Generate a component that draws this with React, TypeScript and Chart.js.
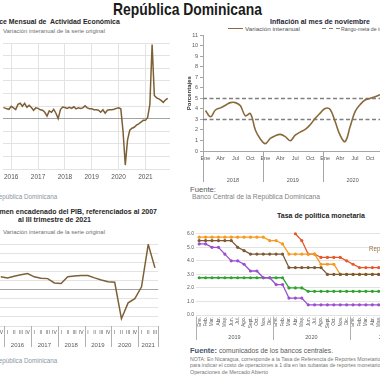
import React, { useEffect, useLayoutEffect, useRef } from 'react';
import { Chart, registerables } from 'chart.js';

Chart.register(...registerables);

const FONT = "'Liberation Sans', Arial, Helvetica, sans-serif";
Chart.defaults.font.family = FONT;

// ---------- Panel 1: Índice Mensual de Actividad Económica (var. interanual, %) ----------
const imaeFirstMonth = -4; // Sep 2015 (months counted from Jan 2016)
const imaeValues = [
  7.1, 6.8, 6.2, 5.9,
  7.8, 6.8, 5.7, 9.0, 9.7, 7.8, 9.7, 7.1, 8.4, 7.1, 5.3, 6.8,
  6.5, 5.6, 5.3, 4.0, 1.6, 4.9, 4.0, 5.9, 3.4, 0.0, 5.7, 7.3,
  7.0, 6.5, 7.1, 6.5, 7.5, 6.2, 6.8, 6.5, 6.8, 8.1, 6.8, 6.3,
  6.2, 5.6, 5.6, 5.3, 4.0, 5.6, 3.4, 5.3, 5.6, 5.6, 5.9, 6.5,
  6.8, 6.2, -8.0, -29.5, -13.7, -7.4, -6.1, -5.5, -4.2, -3.3, -2.3, -1.1,
  -1.1, 0.8, 9.0, 47.0, 14.7, 13.2, 12.5, 11.6, 10.3, 11.9, 12.8,
];
const imaeYearLabels = ['2016', '2017', '2018', '2019', '2020', '2021'];

// ---------- Panel 2: Inflación interanual (%) ----------
const monthNames = ['Ene', 'Feb', 'Mar', 'Abr', 'May', 'Jun', 'Jul', 'Ago', 'Sep', 'Oct', 'Nov', 'Dic'];
const inflYears = ['2018', '2019', '2020'];
const inflValues = [
  3.85, 3.25, 3.9, 4.1, 4.35, 4.6, 4.6, 4.3, 3.35, 3.55, 2.0, 1.15,
  0.7, 1.2, 1.45, 1.58, 1.36, 0.98, 1.5, 1.8, 2.05, 2.5, 3.1, 3.6,
  4.05, 3.95, 2.8, 1.5, 0.9, 2.3, 3.75, 4.4, 4.85, 5.0, 5.15, 5.35,
];
const targetUpper = 5;
const targetLower = 3;

// ---------- Panel 3: PIB trimestral (var. interanual, %) ----------
const pibYears = ['2015', '2016', '2017', '2018', '2019', '2020', '2021'];
const pibQuartersPerYear = [4, 4, 4, 4, 4, 4, 3];
const quarterNames = ['I', 'II', 'III', 'IV'];
const pibValues = [
  null, null, null, 7.0,
  6.4, 7.3, 8.1, 8.8,
  7.0, 6.2, 6.0, 3.6,
  3.3, 7.0, 7.5, 7.7,
  7.7, 6.4, 5.2, 4.3,
  4.0, -16.0, -7.3, -5.0,
  1.5, 24.8, 11.9,
];

// ---------- Panel 4: Tasa de política monetaria (%) ----------
const tpmYears = ['2019', '2020', '2021'];
const tpmMonthsPerYear = [12, 12, 11];
const tpmMonthNames = ['Ene.', 'Feb.', 'Mar.', 'Abr.', 'May.', 'Jun.', 'Jul.', 'Ago.', 'Sept.', 'Oct.', 'Nov.', 'Dic.'];
const tpmRepDominicana = [5.5, 5.5, 5.5, 5.5, 5.5, 5.5, 5.0, 4.75, 4.5, 4.5, 4.5, 4.5, 4.5, 4.5, 3.5, 3.5, 3.5, 3.5, 3.5, 3.5, 3.0, 3.0, 3.0, 3.0, 3.0, 3.0, 3.0, 3.0, 3.0];
const tpmHonduras = [5.75, 5.75, 5.75, 5.75, 5.75, 5.75, 5.75, 5.75, 5.75, 5.75, 5.75, 5.5, 5.5, 5.25, 4.5, 4.5, 4.5, 4.5, 4.5, 3.75, 3.75, 3.75, 3.0, 3.0, 3.0, 3.0, 3.0, 3.0, 3.0];
const tpmNicaragua = [null, null, null, null, null, null, null, null, null, null, null, null, null, null, null, 6.0, 5.5, 4.5, 4.5, 4.25, 4.25, 4.25, 4.25, 4.0, 3.75, 3.5, 3.5, 3.5, 3.5];
const tpmCostaRica = [5.25, 5.25, 5.0, 5.0, 4.5, 4.0, 4.0, 3.75, 3.25, 3.25, 2.75, 2.75, 2.25, 2.25, 1.25, 1.25, 1.25, 0.75, 0.75, 0.75, 0.75, 0.75, 0.75, 0.75, 0.75, 0.75, 0.75, 0.75, 0.75];
const tpmGuatemala = [2.75, 2.75, 2.75, 2.75, 2.75, 2.75, 2.75, 2.75, 2.75, 2.75, 2.75, 2.75, 2.75, 2.75, 2.0, 2.0, 2.0, 1.75, 1.75, 1.75, 1.75, 1.75, 1.75, 1.75, 1.75, 1.75, 1.75, 1.75, 1.75];

// ---------- helpers ----------
type Group = { label: string; count: number };
function groupAxis(id: string, groups: Group[], o: { lineTop: number; lineBottom: number; labelY: number; size: number; color: string; lineColor: string }) {
  return {
    id,
    afterDraw(chart: any) {
      const sc = chart.scales.x;
      const ctx = chart.ctx as CanvasRenderingContext2D;
      const base = chart.chartArea.bottom;
      const half = (sc.getPixelForValue(1) - sc.getPixelForValue(0)) / 2;
      ctx.save();
      ctx.strokeStyle = o.lineColor;
      ctx.lineWidth = 1;
      ctx.fillStyle = o.color;
      ctx.font = `${o.size}px ${FONT}`;
      ctx.textAlign = 'center';
      ctx.textBaseline = 'middle';
      const seg = (x: number) => {
        const xx = Math.round(x) + 0.5;
        ctx.beginPath();
        ctx.moveTo(xx, base + o.lineTop);
        ctx.lineTo(xx, base + o.lineBottom);
        ctx.stroke();
      };
      let idx = 0;
      groups.forEach((g, gi) => {
        const x0 = sc.getPixelForValue(idx) - half;
        const x1 = sc.getPixelForValue(idx + g.count - 1) + half;
        seg(x0);
        ctx.fillText(g.label, (x0 + x1) / 2, base + o.labelY);
        if (gi === groups.length - 1) seg(x1);
        idx += g.count;
      });
      ctx.restore();
    },
  };
}

type TP = { x: number; y: number; size: number; text: string; w?: number; sx?: number; bold?: boolean; color?: string; right?: boolean };
function T({ x, y, size, text, w, sx, bold, color = '#333', right }: TP) {
  const ref = useRef<HTMLDivElement>(null);
  useLayoutEffect(() => {
    const el = ref.current!;
    el.style.transform = 'none';
    const nat = el.getBoundingClientRect().width;
    const s = w ? w / nat : sx ?? 1;
    el.style.transform = `scaleX(${s})`;
    el.style.left = `${right ? x - nat * s : x}px`;
  }, [x, w, sx, right, text, size]);
  return (
    <div
      ref={ref}
      style={{
        position: 'absolute', left: x, top: y - 0.8465 * size, fontSize: size, lineHeight: `${size}px`,
        fontFamily: FONT, fontWeight: bold ? 700 : 400, color, whiteSpace: 'pre', transformOrigin: '0 0',
      }}
    >
      {text}
    </div>
  );
}

function ChartBox({ left, top, width, height, make }: { left: number; top: number; width: number; height: number; make: () => any }) {
  const ref = useRef<HTMLCanvasElement>(null);
  useEffect(() => {
    const chart = new Chart(ref.current!, make());
    return () => chart.destroy();
  }, []);
  return <canvas ref={ref} width={width} height={height} style={{ position: 'absolute', left, top, width, height }} />;
}

const base = { animation: false, responsive: false, devicePixelRatio: 1, plugins: { legend: { display: false }, tooltip: { enabled: false } } };

// ---------- chart configs ----------
function makeImae() {
  return {
    type: 'line',
    data: {
      datasets: [{
        data: imaeValues.map((v, i) => ({ x: imaeFirstMonth + i, y: v })),
        borderColor: '#7d6036', borderWidth: 1.5, pointRadius: 0, tension: 0,
      }],
    },
    options: {
      ...base,
      layout: { padding: { top: 5, left: 0, right: 2, bottom: 0 } },
      scales: {
        x: {
          type: 'linear', min: -3.5, max: 71,
          afterBuildTicks: (s: any) => { s.ticks = imaeYearLabels.map((_, i) => ({ value: i * 12 })); },
          ticks: { callback: (v: number) => imaeYearLabels[Math.round(v / 12)], font: { size: 6.5 }, color: '#555', padding: 4, maxRotation: 0, autoSkip: false },
          grid: { color: '#e3e3e3', drawTicks: false },
          border: { display: false },
          afterFit: (s: any) => { s.height = 18; },
        },
        y: {
          min: -32, max: 48,
          ticks: { stepSize: 8, display: false },
          grid: { color: (c: any) => (c.tick && c.tick.value === 0 ? '#a3a3a3' : '#e3e3e3'), drawTicks: false },
          border: { display: false },
          afterFit: (s: any) => { s.width = 0; },
        },
      },
    },
  };
}

function makeInfl() {
  const labels = inflYears.flatMap(() => monthNames);
  return {
    type: 'line',
    data: {
      labels,
      datasets: [
        { data: inflValues, borderColor: '#8a6a3c', borderWidth: 1.6, pointRadius: 0, tension: 0.4 },
        { xAxisID: 'x2', data: [{ x: 0, y: targetUpper }, { x: 1, y: targetUpper }], borderColor: '#7f7f7f', borderWidth: 1.5, borderDash: [4, 2.5], pointRadius: 0 },
        { xAxisID: 'x2', data: [{ x: 0, y: targetLower }, { x: 1, y: targetLower }], borderColor: '#7f7f7f', borderWidth: 1.5, borderDash: [4, 2.5], pointRadius: 0 },
      ],
    },
    options: {
      ...base,
      layout: { padding: { top: 5, left: 0, right: 0, bottom: 0 } },
      scales: {
        x: {
          type: 'category', offset: true,
          ticks: { callback: (_v: any, i: number) => (i % 3 === 0 ? labels[i] : ''), autoSkip: false, maxRotation: 0, font: { size: 5.5 }, color: '#595959', padding: 4 },
          grid: { drawOnChartArea: false, drawTicks: false, color: '#a6a6a6' },
          border: { display: true, color: '#a6a6a6' },
          afterFit: (s: any) => { s.height = 32; },
        },
        x2: { type: 'linear', min: 0, max: 1, display: false },
        y: {
          min: 0, max: 11,
          ticks: { stepSize: 1, font: { size: 5.5 }, color: '#595959', padding: 2 },
          grid: { drawOnChartArea: false, drawTicks: true, tickLength: 3, color: '#a6a6a6' },
          border: { display: true, color: '#a6a6a6' },
          title: { display: true, text: 'Porcentajes', font: { size: 6, weight: 'bold' }, color: '#333', padding: { top: 6, bottom: 0 } },
          afterFit: (s: any) => { s.width = 23; },
        },
      },
    },
    plugins: [groupAxis('inflYears', inflYears.map((y) => ({ label: y, count: 12 })), { lineTop: 0, lineBottom: 31, labelY: 29, size: 5.5, color: '#595959', lineColor: '#a6a6a6' })],
  };
}

function makePib() {
  const labels = pibYears.flatMap((_, i) => quarterNames.slice(0, pibQuartersPerYear[i]));
  return {
    type: 'line',
    data: {
      labels,
      datasets: [{ data: pibValues, borderColor: '#7d6036', borderWidth: 1.5, pointRadius: 0, tension: 0 }],
    },
    options: {
      ...base,
      layout: { padding: { top: 4, left: 0, right: 0, bottom: 0 } },
      scales: {
        x: {
          type: 'category', offset: true,
          ticks: { autoSkip: false, maxRotation: 0, font: { size: 5 }, color: '#595959', padding: 4 },
          grid: { drawOnChartArea: false, drawTicks: false },
          border: { display: false },
          afterFit: (s: any) => { s.height = 22; },
        },
        y: {
          min: -20, max: 25,
          ticks: { stepSize: 5, display: false },
          grid: { color: (c: any) => (c.tick && c.tick.value === 0 ? '#a3a3a3' : '#e3e3e3'), drawTicks: false },
          border: { display: false },
          afterFit: (s: any) => { s.width = 0; },
        },
      },
    },
    plugins: [groupAxis('pibYears', pibYears.map((y, i) => ({ label: y, count: pibQuartersPerYear[i] })), { lineTop: 0, lineBottom: 21, labelY: 19, size: 6, color: '#595959', lineColor: '#b0b0b0' })],
  };
}

function makeTpm() {
  const labels = tpmYears.flatMap((_, i) => tpmMonthNames.slice(0, tpmMonthsPerYear[i]));
  const ds = (data: (number | null)[], color: string, label: string) => ({
    label, data, borderColor: color, backgroundColor: color, pointBackgroundColor: color, pointBorderWidth: 0,
    borderWidth: 1.3, pointRadius: 1.6, tension: 0, spanGaps: false,
  });
  return {
    type: 'line',
    data: {
      labels,
      datasets: [
        ds(tpmRepDominicana, '#7b5a35', 'República Dominicana'),
        ds(tpmHonduras, '#f7991e', 'Honduras'),
        ds(tpmNicaragua, '#e8562a', 'Nicaragua'),
        ds(tpmCostaRica, '#9b4ecf', 'Costa Rica'),
        ds(tpmGuatemala, '#2ea32e', 'Guatemala'),
      ],
    },
    options: {
      ...base,
      layout: { padding: { top: 5, left: 0, right: 0, bottom: 0 } },
      scales: {
        x: {
          type: 'category', offset: true,
          ticks: { autoSkip: false, minRotation: 90, maxRotation: 90, font: { size: 4.8 }, color: '#595959', padding: 2 },
          grid: { drawOnChartArea: false, drawTicks: false },
          border: { display: false },
          afterFit: (s: any) => { s.height = 27; },
        },
        y: {
          min: 0, max: 6.5,
          ticks: { stepSize: 0.5, callback: (v: number) => v.toFixed(1), font: { size: 5 }, color: '#595959', padding: 2 },
          grid: { color: '#e3e3e3', drawTicks: false },
          border: { display: false },
          afterFit: (s: any) => { s.width = 14; },
        },
      },
    },
    plugins: [groupAxis('tpmYears', tpmYears.map((y, i) => ({ label: y, count: tpmMonthsPerYear[i] })), { lineTop: 1.5, lineBottom: 25, labelY: 22.7, size: 5.5, color: '#595959', lineColor: '#b0b0b0' })],
  };
}

export default function App() {
  return (
    <div style={{ position: 'fixed', left: 0, top: 0, width: 380, height: 380, overflow: 'hidden', background: '#fff' }}>
      <T x={113} y={15.5} size={17} bold text="República Dominicana" w={149} color="#1a1a1a" />

      {/* Panel 1 */}
      <T x={120} y={24.5} size={7.5} bold right sx={0.92} text="Índice Mensual de  Actividad Económica" color="#262626" />
      <T x={3} y={32.7} size={6} w={102} text="Variación interanual de la serie original" color="#6e6e6e" />
      <ChartBox left={0} top={38} width={172} height={149} make={makeImae} />
      <T x={57} y={199} size={7} right sx={0.9} text="Fuente: Banco Central de la República Dominicana" color="#8a96a3" />

      {/* Panel 2 */}
      <T x={270} y={24} size={7} bold w={100} text="Inflación al mes de noviembre" color="#1f2636" />
      <div style={{ position: 'absolute', left: 228, top: 27.6, width: 15, height: 1.5, background: '#8a6a3c' }} />
      <T x={245} y={30.7} size={6} w={55} text="Variación interanual" color="#555" />
      <div style={{ position: 'absolute', left: 322, top: 27.6, width: 18, height: 1.5, background: 'repeating-linear-gradient(90deg, #7f7f7f 0 4px, transparent 4px 7px)' }} />
      <T x={341} y={30.7} size={6} sx={0.86} text="Rango-meta de inflación" color="#555" />
      <ChartBox left={180} top={30} width={204} height={153} make={makeInfl} />
      <T x={190} y={192.5} size={6.5} w={26} text="Fuente:" color="#595959" />
      <T x={192} y={199} size={7} w={128} text="Banco Central de la República Dominicana" color="#7f7f7f" />

      {/* Panel 3 */}
      <T x={157} y={214} size={7.5} bold right sx={0.93} text="Índice de volumen encadenado del PIB, referenciados al 2007" color="#262626" />
      <T x={18} y={222.7} size={7.5} bold w={73} text="al III trimestre de 2021" color="#262626" />
      <T x={3} y={234.3} size={6} w={102} text="Variación interanual de la serie original" color="#6e6e6e" />
      <ChartBox left={-24} top={240} width={185} height={108} make={makePib} />
      <T x={57} y={362.7} size={7} right sx={0.9} text="Fuente: Banco Central de la República Dominicana" color="#8a96a3" />

      {/* Panel 4 */}
      <T x={277} y={218} size={7} bold w={88} text="Tasa de política monetaria" color="#262626" />
      <ChartBox left={182} top={222} width={243} height={120} make={makeTpm} />
      <T x={369} y={252} size={6.5} sx={0.95} text="Rep. Dominicana" color="#9a7448" />
      <T x={190} y={353.3} size={7.5} bold w={27} text="Fuente:" color="#44546a" />
      <T x={219} y={353.3} size={7.5} w={114} text="comunicados de los bancos centrales." color="#595959" />
      <T x={190} y={361} size={5} w={193} text="NOTA: En Nicaragua, corresponde a la Tasa de Referencia de Reportes Monetarios" color="#767676" />
      <T x={190} y={367.7} size={5} w={193} text="para indicar el costo de operaciones a 1 día en las subastas de reportes monetarios" color="#767676" />
      <T x={190} y={374.3} size={5} w={78} text="Operaciones de Mercado Abierto" color="#767676" />
    </div>
  );
}
